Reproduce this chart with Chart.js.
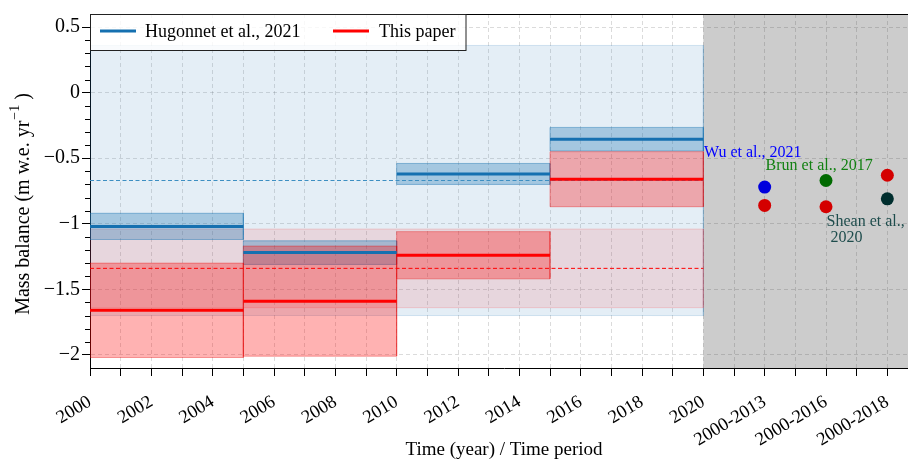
<!DOCTYPE html>
<html>
<head>
<meta charset="utf-8">
<script src="https://cdn.jsdelivr.net/npm/chart.js@4.4.1/dist/chart.umd.min.js"></script>
<style>
  html, body { margin: 0; padding: 0; background: #fff; overflow: hidden; }
  #wrap { width: 908px; height: 460px; overflow: hidden; }
  #c { display: block; }
</style>
</head>
<body>
<div id="wrap"><canvas id="c" width="925" height="460"></canvas></div>
<script>
// ---- data ----
const periodStart = [2000, 2005, 2010, 2015];
const periodEnd   = [2005, 2010, 2015, 2020];

// Hugonnet et al., 2021 (m w.e. per year) and their uncertainties
const hugonnetMean = [-1.02, -1.22, -0.62, -0.355];
const hugonnetErr  = [0.10, 0.09, 0.08, 0.09];
const hugonnetOverall = -0.67;
const hugonnetOverallErr = 1.03;

// This paper
const paperMean = [-1.66, -1.59, -1.24, -0.66];
const paperErr  = [0.36, 0.42, 0.18, 0.21];
const paperOverall = -1.34;
const paperOverallErr = 0.30;

// Comparison with other studies over longer periods
const comparePeriods = ['2000-2013', '2000-2016', '2000-2018'];
const compareSlot    = [2022, 2024, 2026];
const compareStudies = ['Wu et al., 2021', 'Brun et al., 2017', 'Shean et al., 2020'];
const compareValues  = [-0.72, -0.67, -0.81];
const paperCompareValues = [-0.86, -0.87, -0.63];

// Axis ticks
const yearTicks = [2000, 2002, 2004, 2006, 2008, 2010, 2012, 2014, 2016, 2018, 2020];
const yMajorTicks = [0.5, 0, -0.5, -1, -1.5, -2];

// ---- styling ----
const SERIF = '"Liberation Serif", "Times New Roman", serif';
const BLUE_LINE = '#1570b0';
const RED_LINE = '#ff0000';
const X_MIN = 2000, X_MAX = 2027, Y_MIN = -2.1, Y_MAX = 0.6;

function rect(x0, x1, lo, hi) {
  return [{x: x0, y: lo}, {x: x0, y: hi}, {x: x1, y: hi}, {x: x1, y: lo}, {x: x0, y: lo}];
}
function band(x0, x1, lo, hi, fill, edge, order) {
  return {
    type: 'scatter', showLine: true, data: rect(x0, x1, lo, hi),
    backgroundColor: fill, borderColor: edge || 'rgba(0,0,0,0)', borderWidth: edge ? 1 : 0,
    fill: 'shape', pointRadius: 0, pointHoverRadius: 0, pointHitRadius: 0, tension: 0, order
  };
}
function hline(x0, x1, yv, color, width, dash, order) {
  return {
    type: 'scatter', showLine: true, data: [{x: x0, y: yv}, {x: x1, y: yv}],
    borderColor: color, borderWidth: width, borderDash: dash || [], fill: false,
    pointRadius: 0, pointHoverRadius: 0, pointHitRadius: 0, order
  };
}

const datasets = [];
// shaded comparison zone
datasets.push(band(2020, X_MAX, Y_MIN, Y_MAX, 'rgba(0,0,0,0.2)', null, 100));
// overall uncertainty envelopes
datasets.push(band(2000, 2020, hugonnetOverall - hugonnetOverallErr, hugonnetOverall + hugonnetOverallErr,
  'rgba(31,119,180,0.12)', 'rgba(31,119,180,0.18)', 90));
datasets.push(band(2000, 2020, paperOverall - paperOverallErr, paperOverall + paperOverallErr,
  'rgba(255,0,0,0.10)', 'rgba(255,0,0,0.14)', 80));
// per-period uncertainty boxes
periodStart.forEach((s, i) => {
  datasets.push(band(s, periodEnd[i], hugonnetMean[i] - hugonnetErr[i], hugonnetMean[i] + hugonnetErr[i],
    'rgba(31,119,180,0.32)', 'rgba(31,119,180,0.45)', 70));
});
periodStart.forEach((s, i) => {
  datasets.push(band(s, periodEnd[i], paperMean[i] - paperErr[i], paperMean[i] + paperErr[i],
    'rgba(255,0,0,0.30)', 'rgba(230,0,0,0.35)', 60));
});
// overall means
datasets.push(hline(2000, 2020, hugonnetOverall, '#3d8fc2', 1, [4, 2.5], 50));
datasets.push(hline(2000, 2020, paperOverall, '#ff0000', 1, [4, 2.5], 50));
// per-period means
periodStart.forEach((s, i) => datasets.push(hline(s, periodEnd[i], hugonnetMean[i], BLUE_LINE, 3, null, 40)));
periodStart.forEach((s, i) => datasets.push(hline(s, periodEnd[i], paperMean[i], RED_LINE, 3, null, 40)));
// other studies and this paper over the same periods
datasets.push({
  type: 'scatter', data: compareSlot.map((x, i) => ({x, y: compareValues[i]})),
  backgroundColor: ['#0000dd', '#006a00', '#002e2e'], pointRadius: 6.5, pointHoverRadius: 6.5,
  pointBorderWidth: 0, order: 10
});
datasets.push({
  type: 'scatter', data: compareSlot.map((x, i) => ({x, y: paperCompareValues[i]})),
  backgroundColor: '#d40000', pointRadius: 6.5, pointHoverRadius: 6.5, pointBorderWidth: 0, order: 10
});

// study name labels beside the points
const notes = [
  {lines: ['Wu et al., 2021'], x: 2020.02, y: -0.458, color: '#0000ff'},
  {lines: ['Brun et al., 2017'], x: 2022.03, y: -0.557, color: '#128012'},
  {lines: ['Shean et al.,', ' 2020'], x: 2024.02, y: -0.982, color: '#1e4c4c'}
];

const isMajorY = v => Math.abs(v * 2 - Math.round(v * 2)) < 1e-6;
const fmtY = v => {
  const r = Math.round(v * 10) / 10;
  if (r === 0) return '0';
  return (r < 0 ? '\u2212' : '') + String(Math.abs(r));
};

const decorations = {
  id: 'decorations',
  afterDraw(chart) {
    const {ctx, chartArea: a, scales: {x, y}} = chart;
    ctx.save();
    // top spine
    ctx.strokeStyle = '#000';
    ctx.lineWidth = 1;
    ctx.beginPath();
    ctx.moveTo(a.left, Math.round(a.top) + 0.5);
    ctx.lineTo(a.right, Math.round(a.top) + 0.5);
    ctx.stroke();
    // minor y ticks every 0.1
    for (let k = -20; k <= 5; k++) {
      if (k % 5 === 0) continue;
      const py = Math.round(y.getPixelForValue(k / 10)) + 0.5;
      ctx.beginPath();
      ctx.moveTo(a.left - 5, py);
      ctx.lineTo(a.left, py);
      ctx.stroke();
    }
    // study labels
    ctx.textAlign = 'left';
    ctx.textBaseline = 'middle';
    ctx.font = '16px ' + SERIF;
    notes.forEach(n => {
      ctx.fillStyle = n.color;
      const px = x.getPixelForValue(n.x);
      const py = y.getPixelForValue(n.y);
      n.lines.forEach((t, j) => ctx.fillText(t, px, py + j * 16));
    });
    // legend
    const lx = a.left, ly = a.top, lw = 375.5, lh = 36;
    ctx.fillStyle = 'rgba(255,255,255,0.8)';
    ctx.fillRect(lx, ly, lw, lh);
    ctx.strokeStyle = '#222';
    ctx.strokeRect(Math.round(lx) + 0.5, Math.round(ly) + 0.5, lw, lh);
    ctx.lineWidth = 3;
    ctx.strokeStyle = BLUE_LINE;
    ctx.beginPath(); ctx.moveTo(lx + 10, ly + 17); ctx.lineTo(lx + 46, ly + 17); ctx.stroke();
    ctx.strokeStyle = RED_LINE;
    ctx.beginPath(); ctx.moveTo(lx + 243, ly + 17); ctx.lineTo(lx + 279, ly + 17); ctx.stroke();
    ctx.fillStyle = '#000';
    ctx.font = '18px ' + SERIF;
    ctx.fillText('Hugonnet et al., 2021', lx + 55, ly + 18);
    ctx.fillText('This paper', lx + 289, ly + 18);
    // y-axis title with superscript
    const main = 'Mass balance (m w.e. yr', sup = '\u22121', tail = ' )';
    const fMain = '20px ' + SERIF, fSup = '14px ' + SERIF;
    ctx.font = fMain;
    const w1 = ctx.measureText(main).width, w3 = ctx.measureText(tail).width;
    ctx.font = fSup;
    const w2 = ctx.measureText(sup).width;
    ctx.translate(24, 204);
    ctx.rotate(-Math.PI / 2);
    const x0 = -(w1 + w2 + w3 + 1) / 2;
    ctx.font = fMain; ctx.fillText(main, x0, 0);
    ctx.font = fSup; ctx.fillText(sup, x0 + w1 + 1, -9);
    ctx.font = fMain; ctx.fillText(tail, x0 + w1 + w2 + 1, 0);
    ctx.restore();
  }
};

const gridColor = 'rgba(0,0,0,0.14)';

new Chart(document.getElementById('c'), {
  type: 'scatter',
  data: {datasets},
  options: {
    responsive: false,
    animation: false,
    devicePixelRatio: 1,
    events: [],
    layout: {padding: {top: 14, right: 7, left: 0, bottom: 0}},
    plugins: {legend: {display: false}, tooltip: {enabled: false}},
    scales: {
      x: {
        type: 'linear', min: X_MIN, max: X_MAX,
        afterBuildTicks: s => {
          const t = [];
          for (let v = 2000; v <= 2026; v++) t.push({value: v});
          s.ticks = t;
        },
        afterFit: s => { s.height = 92; s.paddingLeft = 0; s.paddingRight = 0; },
        ticks: {
          autoSkip: false, minRotation: 31, maxRotation: 31, padding: 15,
          color: '#000', font: {family: SERIF, size: 18.5},
          callback: v => {
            if (yearTicks.includes(v)) return String(v);
            const k = compareSlot.indexOf(v);
            return k >= 0 ? comparePeriods[k] : '';
          }
        },
        grid: {color: gridColor, tickColor: '#000', tickLength: 8, lineWidth: 1},
        border: {display: true, color: '#000', width: 1, dash: [4, 3]},
        title: {display: true, text: 'Time (year) / Time period', color: '#000',
          font: {family: SERIF, size: 19, lineHeight: 1}, padding: {top: 0, bottom: 0}}
      },
      y: {
        type: 'linear', min: Y_MIN, max: Y_MAX,
        afterBuildTicks: s => {
          const t = [];
          for (let k = -20; k <= 5; k++) t.push({value: k / 10});
          s.ticks = t;
        },
        afterFit: s => { s.width = 90; s.paddingTop = 0; s.paddingBottom = 0; },
        ticks: {
          autoSkip: false, padding: 2, color: '#000', font: {family: SERIF, size: 20},
          callback: v => (isMajorY(v) && yMajorTicks.some(m => Math.abs(m - v) < 1e-6)) ? fmtY(v) : ''
        },
        grid: {
          color: c => isMajorY(c.tick.value) ? gridColor : 'rgba(0,0,0,0)',
          tickColor: c => isMajorY(c.tick.value) ? '#000' : 'rgba(0,0,0,0)',
          tickLength: 8, lineWidth: 1
        },
        border: {display: true, color: '#000', width: 1, dash: [4, 3]}
      }
    }
  },
  plugins: [decorations]
});
</script>
</body>
</html>
